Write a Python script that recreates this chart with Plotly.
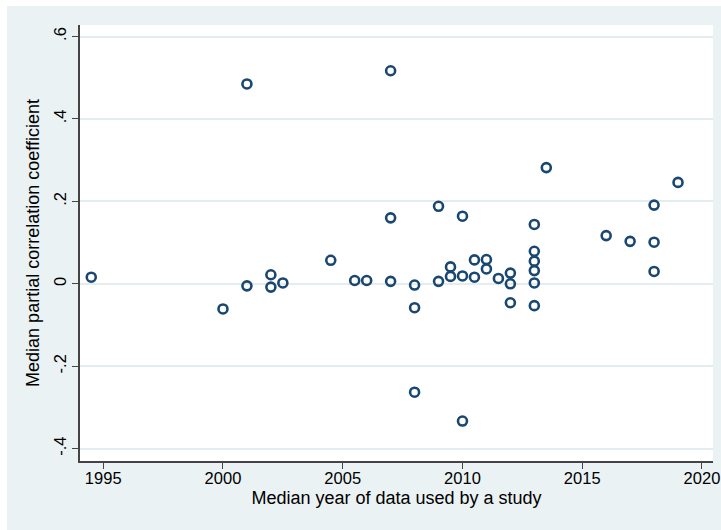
import plotly.graph_objects as go

# Median year of data used by each study
years = [1994.5, 2000, 2001, 2001, 2002, 2002, 2002.5, 2004.5, 2005.5, 2006,
         2007, 2007, 2007, 2008, 2008, 2008, 2009, 2009, 2009.5, 2009.5,
         2010, 2010, 2010, 2010.5, 2010.5, 2011, 2011, 2011.5, 2012, 2012,
         2012, 2013, 2013, 2013, 2013, 2013, 2013, 2013.5, 2016, 2017,
         2018, 2018, 2018, 2019]

# Median partial correlation coefficient
pcc = [0.016, -0.061, 0.485, -0.005, 0.022, -0.008, 0.002, 0.057, 0.008, 0.008,
       0.517, 0.160, 0.006, -0.003, -0.058, -0.263, 0.188, 0.006, 0.041, 0.018,
       0.164, 0.019, -0.333, 0.058, 0.016, 0.059, 0.036, 0.013, 0.026, 0.000,
       -0.046, 0.144, 0.079, 0.055, 0.032, 0.002, -0.053, 0.282, 0.117, 0.103,
       0.191, 0.101, 0.030, 0.246]

x_ticks = [1995, 2000, 2005, 2010, 2015, 2020]
y_ticks = [-0.4, -0.2, 0, 0.2, 0.4, 0.6]
y_tick_labels = ["-.4", "-.2", "0", ".2", ".4", ".6"]

x_title = "Median year of data used by a study"
y_title = "Median partial correlation coefficient"

NAVY = "#1a476f"
BG = "#eaf2f3"
GRID = "#e3ecef"
AXIS = "#444444"
FONT = "Liberation Sans, Arial, sans-serif"

fig = go.Figure()
fig.add_trace(go.Scatter(
    x=years, y=pcc, mode="markers",
    marker=dict(symbol="circle-open", size=9, color=NAVY,
                line=dict(width=2.6, color=NAVY)),
    showlegend=False, hoverinfo="x+y",
))

fig.update_layout(
    width=714, height=524,
    margin=dict(l=73, r=8, t=19, b=69, pad=0, autoexpand=False),
    paper_bgcolor=BG,
    plot_bgcolor="white",
    font=dict(family=FONT, size=18, color="black"),
)

fig.update_xaxes(
    range=[1994.03, 2020.46],
    tickvals=x_ticks, automargin=False,
    ticks="outside", ticklen=6, tickwidth=1.2, tickcolor=AXIS,
    ticklabelstandoff=-5, ticklabeloverflow="allow",
    showline=True, linecolor=AXIS, linewidth=1.5, mirror=False,
    showgrid=False, zeroline=False,
    tickfont=dict(size=16.5, color="black"),
    title=dict(text=x_title, font=dict(size=18, color="black"), standoff=6),
)

fig.update_yaxes(
    range=[-0.430, 0.628],
    tickvals=y_ticks, ticktext=y_tick_labels, tickangle=-90, automargin=False,
    ticks="outside", ticklen=6, tickwidth=1.2, tickcolor=AXIS,
    ticklabeloverflow="allow",
    showline=True, linecolor=AXIS, linewidth=1.5, mirror=False,
    showgrid=True, gridcolor=GRID, gridwidth=1.5, zeroline=False,
    tickfont=dict(size=16.5, color="black"),
    title=dict(text=y_title, font=dict(size=18, color="black"), standoff=6),
)

fig.write_html(
    "out.html",
    post_script="document.body.style.margin = '6px 0 0 7px';"
                "document.body.style.overflow = 'hidden';",
)
